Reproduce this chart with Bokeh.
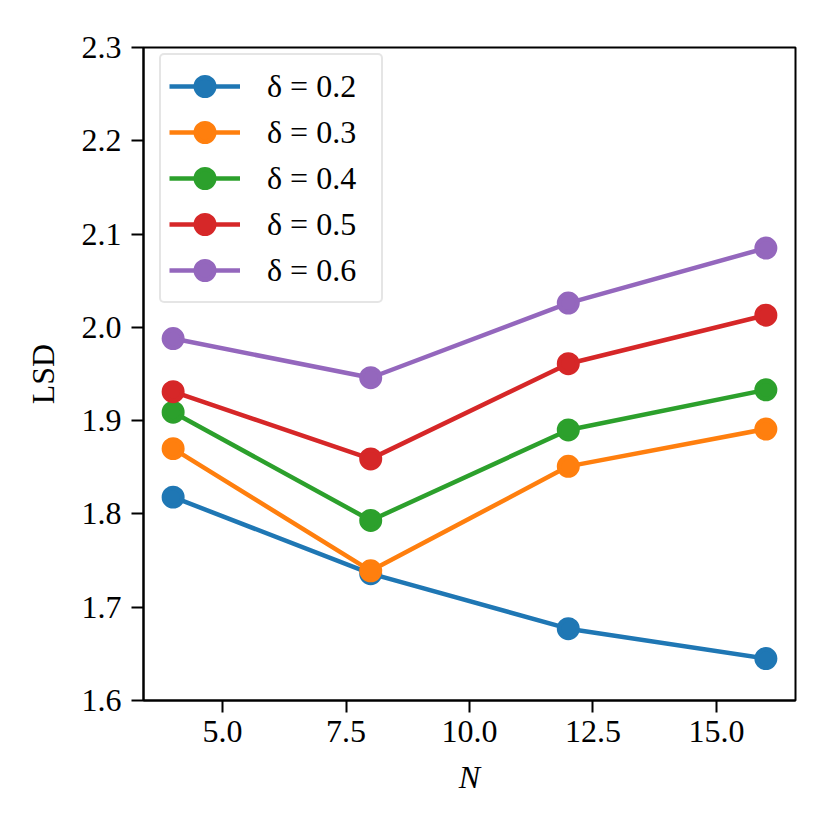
from bokeh.plotting import figure
from bokeh.models import FixedTicker, Range1d, CustomJSTickFormatter, Legend
from bokeh.embed import file_html
from bokeh.resources import INLINE

N_values = [4, 8, 12, 16]
deltas = ["0.2", "0.3", "0.4", "0.5", "0.6"]
lsd_02 = [1.818, 1.736, 1.677, 1.645]
lsd_03 = [1.870, 1.739, 1.851, 1.891]
lsd_04 = [1.909, 1.793, 1.890, 1.933]
lsd_05 = [1.931, 1.859, 1.961, 2.013]
lsd_06 = [1.988, 1.946, 2.026, 2.085]
series = [lsd_02, lsd_03, lsd_04, lsd_05, lsd_06]
colors = ["#1f77b4", "#ff7f0e", "#2ca02c", "#d62728", "#9467bd"]
x_ticks = [5.0, 7.5, 10.0, 12.5, 15.0]
y_ticks = [1.6, 1.7, 1.8, 1.9, 2.0, 2.1, 2.2, 2.3]

FONT = "Liberation Serif"
FS = "32px"

p = figure(frame_width=652, frame_height=653,
           x_range=Range1d(3.4, 16.6), y_range=Range1d(1.6, 2.3),
           output_backend="svg", toolbar_location=None,
           min_border_left=143, min_border_top=47,
           min_border_right=27, min_border_bottom=122,
           background_fill_color="white", border_fill_color="white")
p.grid.visible = False
p.outline_line_color = "black"
p.outline_line_width = 2
p.outline_line_alpha = 1.0

for ax in (p.xaxis[0], p.yaxis[0]):
    ax.axis_line_color = "black"
    ax.axis_line_width = 2
    ax.major_tick_line_width = 2
    ax.major_tick_out = 12
    ax.major_tick_in = 0
    ax.minor_tick_line_color = None
    ax.major_label_text_font = FONT
    ax.major_label_text_font_size = FS
    ax.major_label_text_color = "black"
    ax.axis_label_text_font = FONT
    ax.axis_label_text_font_size = FS
    ax.axis_label_text_color = "black"

p.xaxis.ticker = FixedTicker(ticks=x_ticks)
p.yaxis.ticker = FixedTicker(ticks=y_ticks)
p.xaxis.formatter = CustomJSTickFormatter(code="return tick.toFixed(1);")
p.yaxis.formatter = CustomJSTickFormatter(code="return tick.toFixed(1);")
p.xaxis.axis_label = "N"
p.xaxis.axis_label_text_font_style = "italic"
p.yaxis.axis_label = "LSD"
p.yaxis.axis_label_text_font_style = "normal"
p.xaxis.major_label_standoff = 8
p.yaxis.major_label_standoff = 10
p.xaxis.axis_label_standoff = 14
p.yaxis.axis_label_standoff = 18

items = []
for vals, col, d in zip(series, colors, deltas):
    r1 = p.line(N_values, vals, line_color=col, line_width=4.5)
    # marker size + outline width gives a 23px dot both in plot and legend
    r2 = p.scatter(N_values, vals, marker="circle", size=18.4,
                   fill_color=col, line_color=col, line_width=4.6)
    items.append(("δ = " + d, [r1, r2]))

legend = Legend(items=items, location=(16, 397), margin=0,
                padding=8, spacing=0, glyph_height=46, glyph_width=71,
                label_standoff=27, label_width=106,
                label_text_font=FONT, label_text_font_size=FS,
                label_text_color="black",
                border_line_color="#cccccc", border_line_width=2,
                background_fill_color="white", background_fill_alpha=0.8)
try:
    legend.border_radius = 5
except Exception:
    pass
p.add_layout(legend)

open("out.html", "w").write(file_html(p, INLINE))
